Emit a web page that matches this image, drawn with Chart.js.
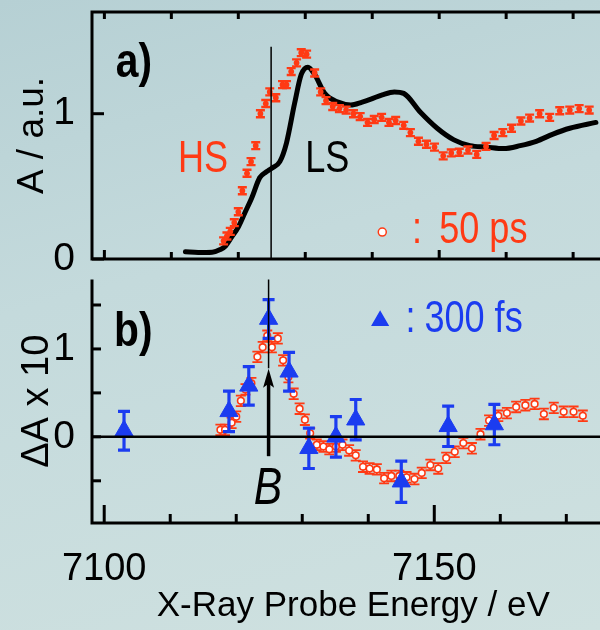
<!DOCTYPE html>
<html>
<head>
<meta charset="utf-8">
<script src="https://cdn.jsdelivr.net/npm/chart.js@4.4.1/dist/chart.umd.min.js"></script>
<style>
  html, body { margin: 0; padding: 0; width: 600px; height: 630px; overflow: hidden; }
  body { position: relative; background: linear-gradient(165deg, #b6d0d4 0%, #c4dadc 40%, #cfe1e0 100%); }
  canvas { position: absolute; left: 0; }
  #chartA { top: 0; }
  #chartB { top: 268px; }
</style>
</head>
<body>
<canvas id="chartA" width="626" height="300"></canvas>
<canvas id="chartB" width="626" height="362"></canvas>
<script>
// --- datos ---
// panel a) LS (linea negra)
const lsE = [7112.1, 7114.0, 7116.1, 7117.3, 7118.1, 7119.0, 7120.0, 7121.0, 7122.0, 7123.2, 7124.2, 7125.0, 7126.2, 7127.2, 7128.4, 7129.4, 7130.4, 7131.4, 7132.9, 7134.9, 7136.8, 7138.5, 7139.8, 7141.5, 7143.3, 7144.7, 7147.2, 7149.7, 7152.2, 7154.6, 7157.1, 7159.6, 7162.1, 7164.5, 7167.0, 7169.5, 7173.4];
const lsA = [0.05, 0.045, 0.047, 0.065, 0.09, 0.15, 0.22, 0.32, 0.42, 0.56, 0.60, 0.625, 0.67, 0.80, 1.07, 1.27, 1.32, 1.27, 1.14, 1.08, 1.06, 1.08, 1.10, 1.13, 1.15, 1.14, 1.01, 0.90, 0.82, 0.78, 0.77, 0.76, 0.78, 0.81, 0.86, 0.90, 0.94];

// panel a) HS, 50 ps (puntos rojos)
const hsE = [7117.8, 7118.3, 7118.8, 7119.4, 7120.0, 7120.6, 7121.3, 7121.9, 7122.6, 7123.3, 7124.1, 7124.7, 7125.6, 7126.6, 7127.2, 7127.9, 7128.7, 7129.4, 7130.2, 7131.4, 7132.3, 7133.1, 7134.1, 7135.1, 7136.1, 7137.2, 7138.2, 7139.3, 7140.3, 7141.4, 7142.5, 7143.5, 7144.7, 7145.7, 7146.9, 7148.1, 7149.3, 7150.6, 7151.8, 7153.0, 7154.3, 7155.6, 7157.0, 7158.2, 7159.5, 7160.8, 7162.2, 7163.5, 7165.0, 7166.5, 7168.0, 7169.5, 7170.9, 7172.4];
const hsA = [0.125, 0.158, 0.19, 0.25, 0.325, 0.47, 0.59, 0.67, 0.78, 1.0, 1.07, 1.15, 1.11, 1.20, 1.20, 1.29, 1.35, 1.42, 1.41, 1.28, 1.15, 1.09, 1.05, 1.035, 1.025, 1.0, 0.98, 0.94, 0.96, 0.975, 0.94, 0.953, 0.92, 0.87, 0.81, 0.79, 0.77, 0.71, 0.73, 0.735, 0.75, 0.72, 0.775, 0.85, 0.87, 0.90, 0.95, 0.97, 1.0, 0.975, 1.02, 1.025, 1.035, 1.025];
const errHS = 0.024;

// panel b) diferencia 50 ps (circulos abiertos rojos)
const dE = [7117.6, 7118.3, 7119.3, 7120.0, 7120.7, 7121.4, 7122.3, 7123.2, 7124.0, 7124.7, 7125.4, 7126.3, 7127.1, 7127.9, 7128.7, 7129.6, 7130.4, 7131.2, 7132.2, 7133.2, 7134.1, 7135.1, 7136.1, 7137.1, 7138.1, 7139.2, 7140.2, 7141.3, 7142.4, 7143.5, 7144.7, 7145.8, 7147.0, 7148.1, 7149.4, 7150.6, 7151.8, 7153.1, 7154.4, 7155.7, 7157.0, 7158.3, 7159.7, 7161.0, 7162.4, 7163.8, 7165.2, 7166.6, 7168.1, 7169.6, 7171.1, 7172.5];
const dA = [0.08, 0.08, 0.16, 0.23, 0.41, 0.54, 0.61, 0.91, 1.02, 1.15, 1.02, 1.12, 0.87, 0.68, 0.49, 0.32, 0.195, 0.04, -0.09, -0.11, -0.14, -0.11, -0.09, -0.155, -0.21, -0.34, -0.36, -0.37, -0.47, -0.445, -0.445, -0.46, -0.48, -0.41, -0.32, -0.36, -0.24, -0.17, -0.07, -0.13, 0.03, 0.185, 0.24, 0.27, 0.34, 0.36, 0.375, 0.26, 0.33, 0.285, 0.285, 0.24];
const errD = 0.06;

// panel b) 300 fs (triangulos azules)
const fsE = [7103.0, 7118.9, 7121.9, 7124.9, 7128.0, 7131.0, 7135.1, 7138.1, 7145.0, 7152.1, 7159.1];
const fsA = [0.07, 0.29, 0.58, 1.34, 0.74, -0.13, 0.0, 0.195, -0.51, 0.12, 0.14];
const fsErr = [0.22, 0.23, 0.22, 0.22, 0.22, 0.23, 0.23, 0.23, 0.235, 0.23, 0.23];

const markerE = 7124.9;   // linea B
const xLabels = [7100, 7150];

const xMin = 7098.15, xMax = 7177.3;

const RED = '#ff3a14';
const BLUE = '#1b3cf0';
const SANS = "'Liberation Sans', Arial, sans-serif";

const pts = (xs, ys) => xs.map((x, i) => ({ x: x, y: ys[i] }));

// --- plugin: barras de error ---
const errorBars = {
    id: 'errorBars',
    beforeDatasetDraw(chart, args) {
        const ds = chart.data.datasets[args.index];
        if (!ds.errors) return;
        const xs = chart.scales.x, ys = chart.scales.y, ctx = chart.ctx;
        const a = chart.chartArea;
        ctx.save();
        ctx.beginPath();
        ctx.rect(a.left, a.top, a.right - a.left, a.bottom - a.top);
        ctx.clip();
        ctx.strokeStyle = ds.errColor;
        ctx.lineWidth = ds.errWidth;
        const c = ds.capWidth / 2;
        ds.data.forEach((p, i) => {
            const e = Array.isArray(ds.errors) ? ds.errors[i] : ds.errors;
            const px = xs.getPixelForValue(p.x);
            const y0 = ys.getPixelForValue(p.y - e);
            const y1 = ys.getPixelForValue(p.y + e);
            ctx.beginPath();
            ctx.moveTo(px, y0); ctx.lineTo(px, y1);
            ctx.moveTo(px - c, y0); ctx.lineTo(px + c, y0);
            ctx.moveTo(px - c, y1); ctx.lineTo(px + c, y1);
            ctx.stroke();
        });
        ctx.restore();
    }
};

// --- plugin: marco y ticks hacia dentro ---
const frame = {
    id: 'frame',
    afterDraw(chart, args, opts) {
        const ctx = chart.ctx, a = chart.chartArea;
        const xs = chart.scales.x, ys = chart.scales.y;
        ctx.save();
        ctx.strokeStyle = '#000';
        ctx.lineWidth = 3;
        ctx.lineCap = 'butt';
        ctx.beginPath();
        ctx.moveTo(a.left, a.top); ctx.lineTo(a.left, a.bottom);
        if (opts.top) { ctx.moveTo(a.left - 1.5, a.top); ctx.lineTo(a.right, a.top); }
        ctx.moveTo(a.left - 1.5, a.bottom); ctx.lineTo(a.right, a.bottom);
        ctx.stroke();

        // ticks eje x
        xs.ticks.forEach(t => {
            const px = xs.getPixelForValue(t.value);
            const len = Math.round(t.value) % 50 === 0 ? opts.majorLen : opts.minorLen;
            ctx.beginPath();
            ctx.moveTo(px, a.bottom); ctx.lineTo(px, a.bottom - len);
            if (opts.top) { ctx.moveTo(px, a.top); ctx.lineTo(px, a.top + opts.minorLen); }
            ctx.stroke();
        });
        // ticks eje y
        ys.ticks.forEach(t => {
            const py = ys.getPixelForValue(t.value);
            ctx.beginPath();
            ctx.moveTo(a.left, py); ctx.lineTo(a.left + opts.yLen, py);
            ctx.stroke();
        });
        if (opts.zeroLine) {
            const py = ys.getPixelForValue(0);
            ctx.lineWidth = 2.5;
            ctx.beginPath();
            ctx.moveTo(a.left, py); ctx.lineTo(a.right, py);
            ctx.stroke();
        }
        ctx.restore();
    }
};

// --- plugin: textos, leyendas y linea B ---
const notes = {
    id: 'notes',
    afterDatasetsDraw(chart, args, opts) {
        const ctx = chart.ctx;
        const xs = chart.scales.x, ys = chart.scales.y;
        const X = v => xs.getPixelForValue(v);
        const Y = v => ys.getPixelForValue(v);
        ctx.save();
        (opts.lines || []).forEach(l => {
            ctx.strokeStyle = '#000';
            ctx.lineWidth = l.width;
            ctx.beginPath();
            ctx.moveTo(X(l.x), Y(l.y0)); ctx.lineTo(X(l.x), Y(l.y1));
            ctx.stroke();
        });
        (opts.arrows || []).forEach(ar => {
            const px = X(ar.x), yb = Y(ar.y0), yt = Y(ar.y1);
            ctx.strokeStyle = '#000';
            ctx.fillStyle = '#000';
            ctx.lineWidth = 3.5;
            ctx.beginPath();
            ctx.moveTo(px, yb); ctx.lineTo(px, yt + 14);
            ctx.stroke();
            ctx.beginPath();
            ctx.moveTo(px, yt);
            ctx.lineTo(px - 5.5, yt + 19);
            ctx.lineTo(px, yt + 15);
            ctx.lineTo(px + 5.5, yt + 19);
            ctx.closePath();
            ctx.fill();
        });
        (opts.marks || []).forEach(m => {
            ctx.fillStyle = m.fill;
            ctx.strokeStyle = m.stroke;
            ctx.lineWidth = 1.5;
            Chart.helpers.drawPoint(ctx, { pointStyle: m.style, radius: m.r, borderWidth: 1.5, rotation: 0 }, X(m.x), Y(m.y));
        });
        // texto estrecho: Liberation Sans comprimido en horizontal
        (opts.texts || []).forEach(t => {
            ctx.save();
            ctx.font = t.font;
            ctx.fillStyle = t.color || '#000';
            ctx.textAlign = t.align || 'left';
            ctx.textBaseline = 'alphabetic';
            ctx.translate(X(t.x), Y(t.y));
            ctx.scale(t.sx || 0.82, 1);
            ctx.fillText(t.text, 0, 0);
            ctx.restore();
        });
        ctx.restore();
    }
};

const noSidePad = s => { s.paddingLeft = 0; s.paddingRight = 0; s.paddingTop = 0; s.paddingBottom = 0; };

// --- panel a) ---
new Chart(document.getElementById('chartA'), {
    type: 'scatter',
    data: {
        datasets: [
            {
                label: 'HS 50 ps',
                data: pts(hsE, hsA),
                pointRadius: 2.9,
                pointBackgroundColor: RED,
                pointBorderWidth: 0,
                errors: errHS, errColor: RED, errWidth: 2.4, capWidth: 9
            },
            {
                label: 'LS',
                data: pts(lsE, lsA),
                showLine: true,
                borderColor: '#000',
                borderWidth: 5,
                pointRadius: 0,
                cubicInterpolationMode: 'monotone',
                borderCapStyle: 'round',
                borderJoinStyle: 'round'
            }
        ]
    },
    options: {
        responsive: false,
        animation: false,
        events: [],
        layout: { padding: { top: 12, bottom: 33, left: 0, right: 0 } },
        plugins: {
            legend: { display: false },
            tooltip: { enabled: false },
            frame: { top: true, majorLen: 9, minorLen: 7, yLen: 12 },
            notes: {
                lines: [{ x: markerE, y0: 1.46, y1: 0, width: 1.5 }],
                marks: [{ x: 7141.5, y: 0.185, style: 'circle', r: 4, fill: '#fff', stroke: RED }],
                texts: [
                    { text: 'a)', x: 7101.7, y: 1.25, font: `bold 48px ${SANS}`, sx: 0.85 },
                    { text: 'HS', x: 7111.0, y: 0.60, font: `44px ${SANS}`, color: RED },
                    { text: 'LS', x: 7130.0, y: 0.60, font: `44px ${SANS}` },
                    { text: ':', x: 7146.7, y: 0.113, font: `44px ${SANS}`, color: RED, align: 'center' },
                    { text: '50 ps', x: 7150.0, y: 0.113, font: `44px ${SANS}`, color: RED }
                ]
            }
        },
        scales: {
            x: {
                type: 'linear', min: xMin, max: xMax,
                afterFit: noSidePad,
                ticks: { display: false, stepSize: 10, includeBounds: false },
                grid: { display: false },
                border: { display: false }
            },
            y: {
                min: 0, max: 1.7,
                afterFit: s => { s.width = 92; noSidePad(s); },
                ticks: { stepSize: 1, includeBounds: false, autoSkip: false, padding: 9, color: '#000', font: { family: SANS, size: 39 } },
                grid: { display: false },
                border: { display: false },
                title: { display: true, text: 'A / a.u.', color: '#000', font: { family: SANS, size: 37 }, padding: { top: 11, bottom: 0 } }
            }
        }
    },
    plugins: [errorBars, notes, frame]
});

// --- panel b) ---
new Chart(document.getElementById('chartB'), {
    type: 'scatter',
    data: {
        datasets: [
            {
                label: '300 fs',
                data: pts(fsE, fsA),
                pointStyle: 'triangle',
                pointRadius: 10.5,
                pointBackgroundColor: BLUE,
                pointBorderColor: BLUE,
                pointBorderWidth: 1,
                errors: fsErr, errColor: BLUE, errWidth: 3.2, capWidth: 12
            },
            {
                label: '50 ps',
                data: pts(dE, dA),
                pointRadius: 3.3,
                pointBackgroundColor: '#fff',
                pointBorderColor: RED,
                pointBorderWidth: 1.6,
                errors: errD, errColor: RED, errWidth: 1.8, capWidth: 10
            }
        ]
    },
    options: {
        responsive: false,
        animation: false,
        events: [],
        layout: { padding: { top: 0, bottom: 0, left: 0, right: 0 } },
        plugins: {
            legend: { display: false },
            tooltip: { enabled: false },
            frame: { top: false, majorLen: 18, minorLen: 9, yLen: 9, zeroLine: true },
            notes: {
                lines: [{ x: markerE, y0: 1.79, y1: 0.78, width: 1.5 }],
                arrows: [{ x: markerE, y0: -0.22, y1: 0.775 }],
                marks: [{ x: 7141.8, y: 1.32, style: 'triangle', r: 9, fill: BLUE, stroke: BLUE }],
                texts: [
                    { text: 'b)', x: 7101.5, y: 1.03, font: `bold 48px ${SANS}`, sx: 0.85 },
                    { text: ':', x: 7146.4, y: 1.196, font: `44px ${SANS}`, color: BLUE, align: 'center' },
                    { text: '300 fs', x: 7148.5, y: 1.196, font: `44px ${SANS}`, color: BLUE },
                    { text: 'B', x: 7124.8, y: -0.76, font: `italic 52px ${SANS}`, align: 'center' }
                ]
            }
        },
        scales: {
            x: {
                type: 'linear', min: xMin, max: xMax,
                afterFit: s => { s.height = 107; noSidePad(s); },
                ticks: {
                    stepSize: 10, includeBounds: false, autoSkip: false, maxRotation: 0, padding: 16,
                    color: '#000', font: { family: SANS, size: 38 },
                    callback: v => xLabels.includes(Math.round(v)) ? String(Math.round(v)) : ''
                },
                grid: { display: false },
                border: { display: false },
                title: { display: true, text: 'X-Ray Probe Energy / eV', color: '#000', font: { family: SANS, size: 35 }, padding: { top: 0, bottom: 3 } }
            },
            y: {
                min: -0.98, max: 1.79,
                afterFit: s => { s.width = 92; noSidePad(s); },
                ticks: {
                    stepSize: 0.5, includeBounds: false, autoSkip: false, padding: 9,
                    color: '#000', font: { family: SANS, size: 39 },
                    callback: v => (Math.abs(v) < 1e-6 ? '0' : (Math.abs(v - 1) < 1e-6 ? '1' : ''))
                },
                grid: { display: false },
                border: { display: false },
                title: { display: true, text: 'ΔA x 10', color: '#000', font: { family: SANS, size: 38 }, padding: { top: 15, bottom: 0 } }
            }
        }
    },
    plugins: [errorBars, notes, frame]
});
</script>
</body>
</html>
